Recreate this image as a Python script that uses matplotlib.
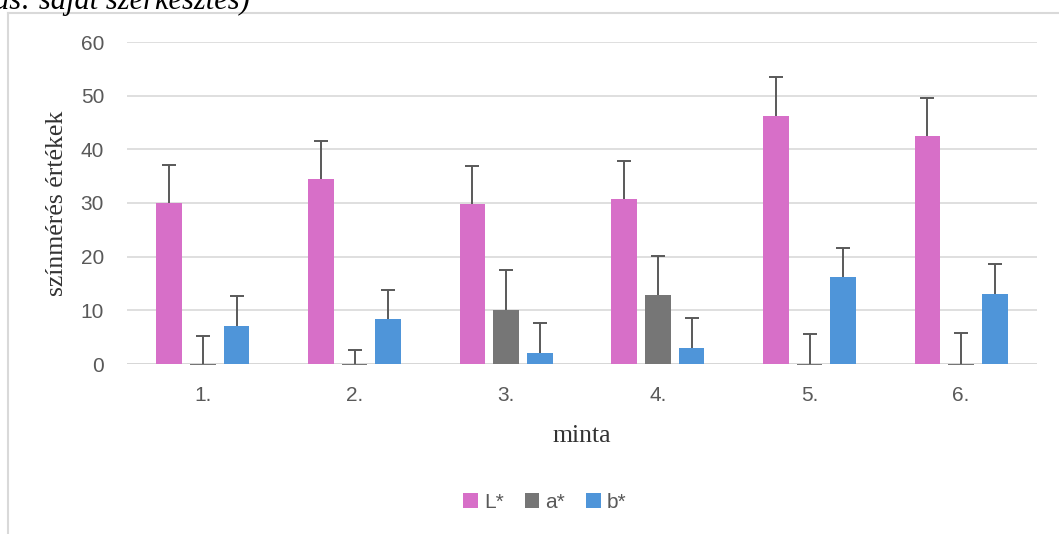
import matplotlib

matplotlib.use("Agg")
import matplotlib.pyplot as plt
import numpy as np
from matplotlib.lines import Line2D

# data
samples = ["1.", "2.", "3.", "4.", "5.", "6."]
series_names = ["L*", "a*", "b*"]
L_vals = [30.0, 34.4, 29.9, 30.8, 46.3, 42.4]
a_vals = [-0.2, -0.2, 10.0, 12.8, -0.2, -0.2]
b_vals = [7.1, 8.3, 2.1, 2.9, 16.2, 13.0]
L_err = [7.1, 7.1, 7.0, 7.1, 7.2, 7.1]
a_err = [5.4, 2.9, 7.5, 7.4, 5.8, 5.9]
b_err = [5.6, 5.5, 5.6, 5.6, 5.4, 5.6]
y_ticks = [0, 10, 20, 30, 40, 50, 60]

colors = ["#D76FC8", "#767676", "#4F95D9"]
W, H = 1059, 534

fig = plt.figure(figsize=(W / 100, H / 100), dpi=100)
ax = fig.add_axes([127 / W, 1 - 364 / H, (1037 - 127) / W, (364 - 42) / H])

x = np.arange(len(samples))
width = 0.171
pitch = 0.222
values = [L_vals, a_vals, b_vals]
errs = [L_err, a_err, b_err]
for i, (vals, err, col, name) in enumerate(zip(values, errs, colors, series_names)):
    pos = x + (i - 1) * pitch
    ax.bar(pos, vals, width, color=col, label=name, zorder=3, clip_on=False)
    eb = ax.errorbar(pos, vals, yerr=[np.zeros(len(vals)), err], fmt="none",
                     ecolor="#595959", elinewidth=1.4, capsize=4.8, capthick=1.4, zorder=4)
    # plus-only error bars: hide the lower caps
    eb[1][0].set_visible(False)

ax.set_xlim(-0.5, len(samples) - 0.5)
ax.set_ylim(0, 60)
ax.set_yticks(y_ticks)
ax.set_xticks(x)
ax.set_xticklabels(samples)
ax.grid(axis="y", color="#D9D9D9", linewidth=1.2, zorder=0)
ax.axhline(0, color="#D0D0D0", linewidth=1.4, zorder=1)
for s in ax.spines.values():
    s.set_visible(False)
ax.tick_params(length=0, labelsize=15, labelcolor="#595959")
for lab in ax.get_xticklabels() + ax.get_yticklabels():
    lab.set_family("Liberation Sans")
ax.tick_params(axis="x", pad=16)
ax.tick_params(axis="y", pad=16.5)

fig.text(57 / W, 1 - 203 / H, "színmérés értékek", rotation=90, ha="center", va="center",
         family="Liberation Serif", fontsize=18.5, color="#333333")
fig.text(582 / W, 1 - 436 / H, "minta", ha="center", va="center",
         family="Liberation Serif", fontsize=18.5, color="#333333")

leg = fig.legend(loc="center", bbox_to_anchor=(545 / W, 1 - 502 / H), ncol=3, frameon=False,
                 prop={"family": "Liberation Sans", "size": 15}, handlelength=0.7,
                 handleheight=0.7, handletextpad=0.3, columnspacing=1.0)
for t in leg.get_texts():
    t.set_color("#595959")

# chart area border (only left and top visible in the crop)
bx = 7.5 / W
by = 1 - 13 / H
fig.add_artist(Line2D([bx, bx], [0, by], transform=fig.transFigure, color="#D9D9D9", linewidth=1.5))
fig.add_artist(Line2D([bx, 1], [by, by], transform=fig.transFigure, color="#D9D9D9", linewidth=1.5))

# cut-off caption above the chart
fig.text(-6 / W, 1 - 9 / H, "ás: saját szerkesztés)", ha="left", va="baseline",
         family="Liberation Serif", style="italic", fontsize=22, color="black")

fig.savefig("out.png", dpi=100)
